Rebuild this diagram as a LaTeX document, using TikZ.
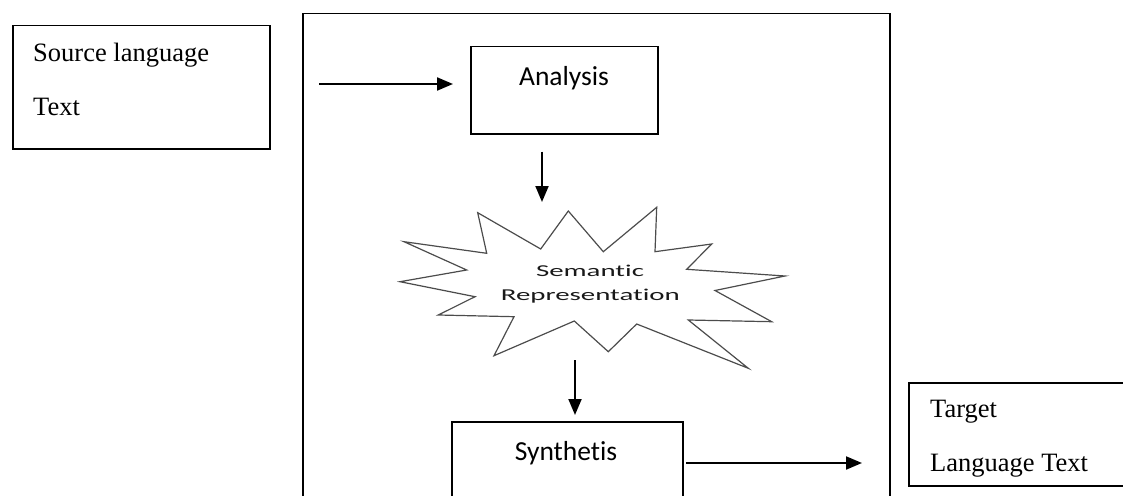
\documentclass[tikz,border=0pt]{standalone}
\usepackage{fontspec}
\setmainfont{Liberation Serif}
\newfontfamily\calibri[Ligatures={NoCommon}]{Carlito}
\usetikzlibrary{arrows.meta}
\begin{document}
\begin{tikzpicture}[x=1pt,y=-1pt,
  box/.style={draw, line width=1.5pt, inner sep=0pt, anchor=north west},
  arr/.style={line width=2pt, -{Triangle[length=16pt,width=13pt]}},
  serif/.style={font=\fontsize{26.5}{30}\selectfont, anchor=base west, inner sep=0pt},
  calib/.style={font=\calibri\fontsize{27.5}{30}\selectfont, anchor=base, inner sep=0pt},
  semtxt/.style={font=\calibri\fontsize{16.6}{20}\selectfont, anchor=base, inner sep=0pt, text=black!90},
  starline/.style={draw=black!70, line width=1.2pt, line join=miter}]
\useasboundingbox (0,0) rectangle (1123,495);
\clip (0,0) rectangle (1123,495);
% boxes
\node[box, minimum width=257pt, minimum height=123pt] (src) at (12,25) {};
\node[box, minimum width=587pt, minimum height=520pt] (sys) at (302,13) {};
\node[box, minimum width=187pt, minimum height=87pt] (ana) at (470,46) {};
\node[box, minimum width=231pt, minimum height=100pt] (syn) at (451,421) {};
\node[box, minimum width=240pt, minimum height=103pt] (tgt) at (908,382) {};
% texts
\node[serif] (srct1) at (33,62) {Source language};
\node[serif] (srct2) at (33,115) {Text};
\node[serif] (tgtt1) at (930,417) {Target};
\node[serif] (tgtt2) at (930,471) {Language Text};
\node[calib] (anat) at (564,85) {Analysis};
\node[calib] (synt) at (566,460) {Synthetis};
% star
\draw[starline] (477.7,212.7) -- (486.7,253.3) -- (404,241.7) -- (466.7,270) -- (400,281.7) -- (475,296.7) -- (438.3,315) -- (514,316.7) -- (494,355.7) -- (574.3,321) -- (608.3,351.7) -- (636.7,324) -- (748.3,368.3) -- (688.3,320) -- (771.7,321.7) -- (715,290.5) -- (785,276) -- (686.7,269.3) -- (711.7,244) -- (655,251.7) -- (656.7,207.3) -- (603.3,251.7) -- (568.3,211) -- (540.7,249) -- cycle;
\node[semtxt] (sem1) at (590,276.7) {\scalebox{1.74}[1]{Semantic}};
\node[semtxt] (sem2) at (590.3,300) {\scalebox{1.74}[1]{Representation}};
% connectors
\coordinate (in1) at (319,84);
\draw[arr, shorten >=17pt] (in1) -- (in1 -| ana.west);
\coordinate (semtop) at (542,202);
\draw[arr, shorten <=17pt] (ana.south -| semtop) -- (semtop);
\coordinate (sembot) at (575,360);
\draw[arr, shorten >=6pt] (sembot) -- (sembot |- syn.north);
\coordinate (o1) at (682,463);
\draw[arr, shorten <=4pt, shorten >=46pt] (o1) -- (o1 -| tgt.west);
\end{tikzpicture}
\end{document}
